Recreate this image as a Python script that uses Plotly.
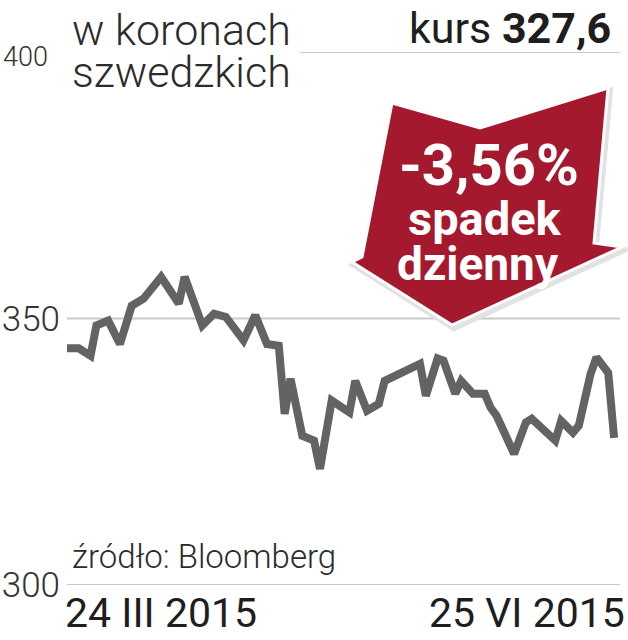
import pandas as pd
import plotly.graph_objects as go

# notowania (dni od 24 III 2015, kurs w SEK)
start = "2015-03-24"
days = [0, 2, 4, 5, 7, 9, 11, 13, 16, 19, 20, 23, 25, 27, 30, 32, 34, 36, 37, 38,
        40, 42, 43, 45, 48, 49, 51, 53, 54, 56, 58, 60, 61, 63, 64, 66, 67, 69, 71,
        72, 73, 76, 78, 79, 83, 84, 86, 87, 89, 90, 92, 93]
kurs = [344.4, 344.4, 343.0, 348.7, 349.6, 345.2, 352.4, 353.7, 357.8, 352.8,
        357.8, 348.7, 350.9, 350.3, 345.9, 350.6, 345.2, 344.9, 332.1, 338.7,
        328.0, 327.1, 321.8, 334.6, 332.4, 338.3, 332.7, 334.0, 338.3, 339.3,
        340.6, 341.5, 335.5, 342.5, 342.1, 335.9, 338.3, 335.9, 335.9, 333.3,
        331.8, 324.6, 330.5, 331.2, 327.1, 330.8, 328.6, 329.9, 339.6, 342.7,
        339.8, 327.6]
y_ticks = [300, 350, 400]
y_tick_text = ["300", "350", ""]   # 400 is drawn smaller, next to the title
x_labels = ["24 III 2015", "25 VI 2015"]

dates = pd.Timestamp(start) + pd.to_timedelta(days, unit="D")

# plot area in pixels: x 67..620, y 52..585
L, R, T, B = 67, 620, 52, 585


def px(x):
    return (x - L) / (R - L)


def py(y):
    return (B - y) / (B - T)


def path(points):
    return "M " + " L ".join(f"{px(x):.4f},{py(y):.4f}" for x, y in points) + " Z"


arrow = [(392, 103), (480, 128), (608, 88), (594, 243), (622, 247),
         (452, 325), (352, 262), (362, 257)]
shadow = [(x + 2, y + 3) for x, y in arrow]

fig = go.Figure()
fig.add_trace(go.Scatter(
    x=dates, y=kurs, mode="lines",
    line=dict(color="#636363", width=8),
    hoverinfo="skip", showlegend=False, cliponaxis=False,
))

shapes = []
for v in y_ticks:
    shapes.append(dict(type="line", xref="paper", yref="y",
                       x0=px(300) if v == 400 else 0, x1=1, y0=v, y1=v,
                       line=dict(color="#c9c9c9", width=2), layer="below"))
shapes.append(dict(type="path", xref="paper", yref="paper", path=path(shadow),
                   fillcolor="#d4d4d4", line=dict(color="#e2e2e2", width=6)))
shapes.append(dict(type="path", xref="paper", yref="paper", path=path(arrow),
                   fillcolor="#a5192f", line=dict(color="#ffffff", width=3)))

font = "Roboto, 'DejaVu Sans', sans-serif"
ann = [
    dict(x=px(1), y=400, yref="y", yshift=-5, text=str(y_ticks[-1]),
         xanchor="left", yanchor="middle",
         font=dict(size=27, color="#333333", family=font, weight=300)),
    dict(x=px(70), y=py(30), text="w koronach", xanchor="left", yanchor="middle",
         font=dict(size=43, color="#2b2b2b", family=font, weight=300)),
    dict(x=px(70), y=py(72), text="szwedzkich", xanchor="left", yanchor="middle",
         font=dict(size=43, color="#2b2b2b", family=font, weight=300)),
    dict(x=px(613), y=py(28), text="kurs <b>327,6</b>", xanchor="right", yanchor="middle",
         font=dict(size=43, color="#1e1e1e", family=font)),
    dict(x=px(489), y=py(165), text="<b>-3,56%</b>", xanchor="center", yanchor="middle",
         font=dict(size=58, color="#ffffff", family=font)),
    dict(x=px(485), y=py(218), text="<b>spadek</b>", xanchor="center", yanchor="middle",
         font=dict(size=47, color="#ffffff", family=font)),
    dict(x=px(478), y=py(264), text="<b>dzienny</b>", xanchor="center", yanchor="middle",
         font=dict(size=46, color="#ffffff", family=font)),
    dict(x=px(70), y=py(556), text="źródło: Bloomberg", xanchor="left", yanchor="middle",
         font=dict(size=33, color="#2b2b2b", family=font, weight=300)),
    dict(x=px(63), y=py(613), text=x_labels[0], xanchor="left", yanchor="middle",
         font=dict(size=41, color="#1e1e1e", family=font)),
    dict(x=px(627), y=py(613), text=x_labels[1], xanchor="right", yanchor="middle",
         font=dict(size=41, color="#1e1e1e", family=font)),
]
for a in ann:
    a.setdefault("yref", "paper")
    a.update(xref="paper", showarrow=False)

fig.update_layout(
    width=628, height=640,
    margin=dict(l=L, r=628 - R, t=T, b=640 - B, autoexpand=False),
    plot_bgcolor="white", paper_bgcolor="white",
    shapes=shapes, annotations=ann,
    showlegend=False,
)
fig.update_xaxes(range=[dates[0], dates[0] + pd.Timedelta(days=94)], visible=False)
fig.update_yaxes(range=[300, 400], tickvals=y_ticks, ticktext=y_tick_text,
                 showgrid=False, zeroline=False, ticks="", ticklabelstandoff=6,
                 automargin=False,
                 tickfont=dict(size=35, color="#333333", family=font, weight=300))

fig.write_html("out.html", config={"displayModeBar": False},
               post_script="document.body.style.margin = '0';")
